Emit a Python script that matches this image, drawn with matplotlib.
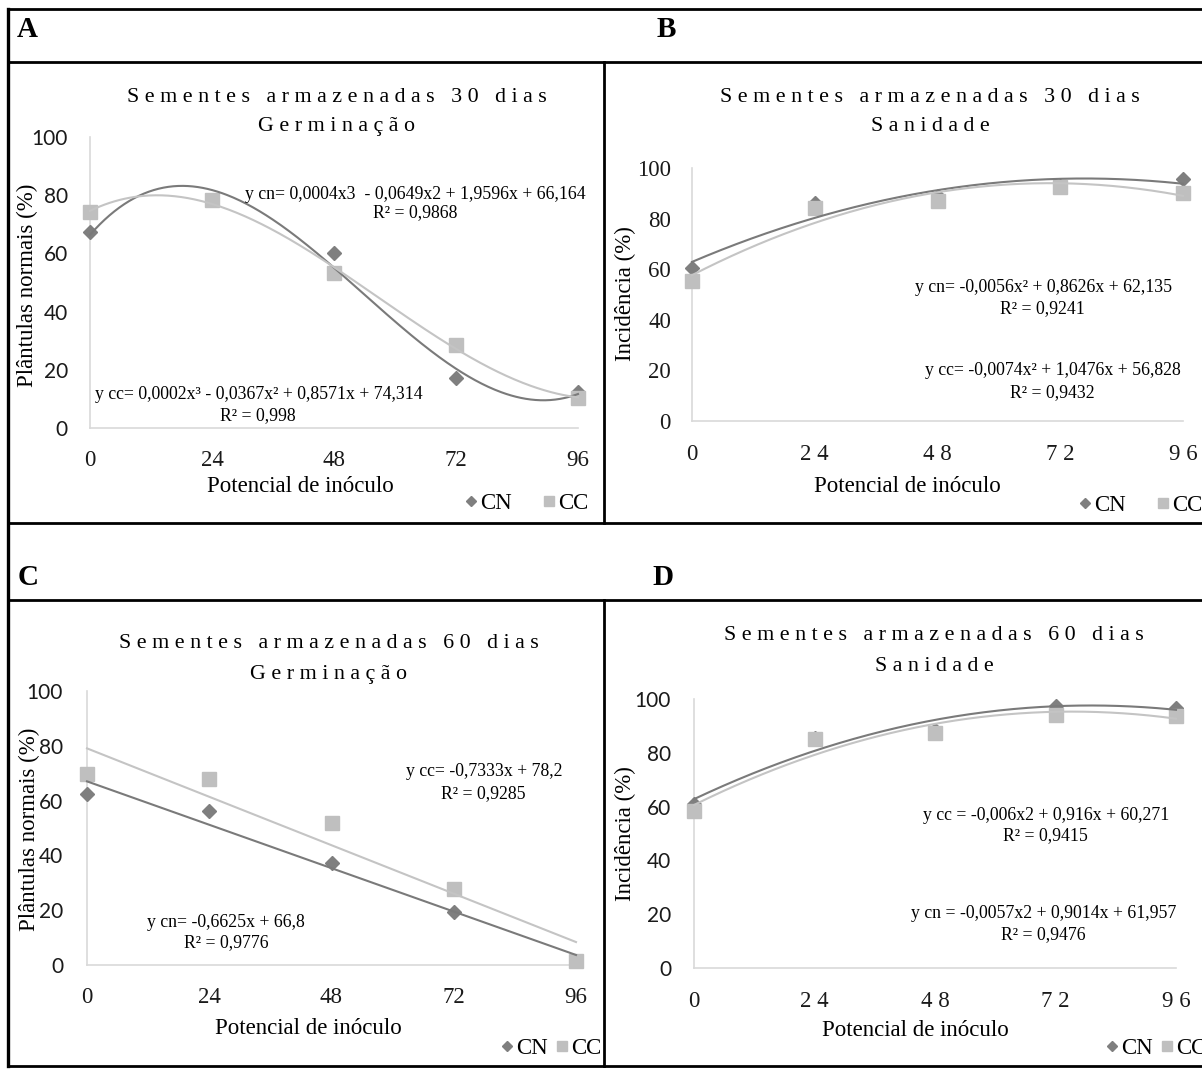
import numpy as np
import matplotlib
matplotlib.use("Agg")
import matplotlib.pyplot as plt
from matplotlib.lines import Line2D

# ---------------- data ----------------
x_vals = [0, 24, 48, 72, 96]
x_ticks = [0, 24, 48, 72, 96]
y_ticks = [0, 20, 40, 60, 80, 100]

A_cn = [67.2, 78.5, 60.0, 17.1, 12.5]
A_cc = [74.3, 78.3, 53.3, 28.5, 10.2]
B_cn = [60.4, 86.0, 89.0, 93.0, 95.5]
B_cc = [55.2, 84.3, 87.0, 92.5, 90.3]
C_cn = [62.3, 56.2, 37.3, 19.4, 1.5]
C_cc = [69.8, 67.8, 51.8, 27.7, 1.5]
D_cn = [61.0, 85.5, 88.5, 97.5, 96.5]
D_cc = [58.3, 85.0, 87.2, 94.2, 93.8]

series_labels = ["CN", "CC"]
panel_letters = ["A", "B", "C", "D"]
titles = [("Sementes armazenadas 30 dias", "Germinação"),
          ("Sementes armazenadas 30 dias", "Sanidade"),
          ("Sementes armazenadas 60 dias", "Germinação"),
          ("Sementes armazenadas 60 dias", "Sanidade")]
ylabels = ["Plântulas normais (%)", "Incidência (%)",
           "Plântulas normais (%)", "Incidência (%)"]
xlabel = "Potencial de inóculo"
equations = [
    ["y cn= 0,0004x3  - 0,0649x2 + 1,9596x + 66,164", "R² = 0,9868",
     "y cc= 0,0002x³ - 0,0367x² + 0,8571x + 74,314", "R² = 0,998"],
    ["y cn= -0,0056x² + 0,8626x + 62,135", "R² = 0,9241",
     "y cc= -0,0074x² + 1,0476x + 56,828", "R² = 0,9432"],
    ["y cc= -0,7333x + 78,2", "R² = 0,9285",
     "y cn= -0,6625x + 66,8", "R² = 0,9776"],
    ["y cc = -0,006x2 + 0,916x + 60,271", "R² = 0,9415",
     "y cn = -0,0057x2 + 0,9014x + 61,957", "R² = 0,9476"],
]
degrees = [3, 2, 1, 2]

# ---------------- styling / layout ----------------
W, H = 1202, 1071
SERIF = "Liberation Serif"
SANS = "Lato"
CN_COL = "#7f7f7f"
CC_COL = "#bfbfbf"
CN_LINE = "#7a7a7a"
CC_LINE = "#c4c4c4"
AX_COL = "#d9d9d9"

fig = plt.figure(figsize=(W / 100, H / 100), dpi=100)


def fx(x):
    return x / W


def fy(y):
    return 1 - y / H


def spaced(s):
    return " ".join(list(s))


# borders
def hline(y, x0=8, x1=W):
    fig.add_artist(Line2D([fx(x0), fx(x1)], [fy(y), fy(y)], color="black", lw=2.0))


def vline(x, y0, y1, lw=2.0):
    fig.add_artist(Line2D([fx(x), fx(x)], [fy(y0), fy(y1)], color="black", lw=lw))


for yy in [9, 62, 523, 600, 1066]:
    hline(yy)
vline(8, 9, 1066, lw=2.4)
vline(604, 62, 523)
vline(604, 600, 1066)

# panel letters
letter_pos = [(17, 37), (657, 37), (18, 585), (652, 585)]
for let, (lx, ly) in zip(panel_letters, letter_pos):
    fig.text(fx(lx), fy(ly), let, family=SERIF, fontweight="bold", fontsize=21,
             ha="left", va="baseline")

panels = [
    dict(box=(90, 578, 137, 428), title=(337, 102, 131), ylab=(27, 285), xlab=(300, 487),
         ytick_font=SANS, ytick_size=15, xtick_spaced=False, xpad=21, ypad=22,
         eq=[(415, 199), (415, 217), (259, 399), (258, 420)],
         leg=(588, 503), colsp=1.3, cn=A_cn, cc=A_cc),
    dict(box=(692, 1183, 168, 421), title=(930, 102, 131), ylab=(625, 294), xlab=(907, 487),
         ytick_font=SERIF, ytick_size=16.5, xtick_spaced=True, xpad=22, ypad=21,
         eq=[(1044, 292), (1042, 313), (1053, 375), (1052, 397)],
         leg=(1202, 505), colsp=1.3, cn=B_cn, cc=B_cc),
    dict(box=(87, 576, 691, 965), title=(329, 648, 679), ylab=(29, 829), xlab=(308, 1029),
         ytick_font=SANS, ytick_size=15, xtick_spaced=False, xpad=21, ypad=24,
         eq=[(484, 776), (483, 798), (226, 927), (226, 947)],
         leg=(601, 1048), colsp=0.3, cn=C_cn, cc=C_cc),
    dict(box=(694, 1176, 699, 968), title=(934, 640, 671), ylab=(625, 834), xlab=(915, 1030),
         ytick_font=SANS, ytick_size=15, xtick_spaced=True, xpad=22, ypad=23,
         eq=[(1046, 820), (1045, 840), (1044, 918), (1043, 939)],
         leg=(1206, 1048), colsp=0.3, cn=D_cn, cc=D_cc),
]

xs = np.linspace(0, 96, 300)
for i, p in enumerate(panels):
    l, r, t, b = p["box"]
    ax = fig.add_axes([fx(l), fy(b), (r - l) / W, (b - t) / H])
    ax.set_xlim(0, 96)
    ax.set_ylim(0, 100)
    for s in ["top", "right"]:
        ax.spines[s].set_visible(False)
    for s in ["left", "bottom"]:
        ax.spines[s].set_color(AX_COL)
        ax.spines[s].set_linewidth(1.2)
    ax.set_xticks(x_ticks)
    ax.set_yticks(y_ticks)
    xt = [spaced(str(v)) if p["xtick_spaced"] else str(v) for v in x_ticks]
    ax.set_xticklabels(xt, family=SERIF, fontsize=16.5)
    ax.set_yticklabels([str(v) for v in y_ticks], family=p["ytick_font"],
                       fontsize=p["ytick_size"])
    ax.tick_params(length=0, colors="#1a1a1a")
    ax.tick_params(axis="x", pad=p["xpad"] * 0.72 + 0.5)
    ax.tick_params(axis="y", pad=p["ypad"] * 0.72)

    ax.plot(x_vals, p["cn"], linestyle="none", marker="D", ms=7, color=CN_COL,
            mec=CN_COL, clip_on=False, zorder=3)
    ax.plot(x_vals, p["cc"], linestyle="none", marker="s", ms=10.5, color=CC_COL,
            mec=CC_COL, clip_on=False, zorder=4)
    cn_fit = np.polyval(np.polyfit(x_vals, p["cn"], degrees[i]), xs)
    cc_fit = np.polyval(np.polyfit(x_vals, p["cc"], degrees[i]), xs)
    ax.plot(xs, cn_fit, color=CN_LINE, lw=1.5, zorder=5, clip_on=False)
    ax.plot(xs, cc_fit, color=CC_LINE, lw=1.5, zorder=5, clip_on=False)

    # titles
    tx, ty1, ty2 = p["title"]
    fig.text(fx(tx), fy(ty1), spaced(titles[i][0]), family=SERIF, fontsize=15.8,
             ha="center", va="baseline")
    fig.text(fx(tx), fy(ty2), spaced(titles[i][1]), family=SERIF, fontsize=15.8,
             ha="center", va="baseline")
    # axis labels
    fig.text(fx(p["ylab"][0]), fy(p["ylab"][1]), ylabels[i], family=SERIF, fontsize=16.5,
             rotation=90, ha="center", va="center")
    fig.text(fx(p["xlab"][0]), fy(p["xlab"][1]), xlabel, family=SERIF, fontsize=16.5,
             ha="center", va="center")
    # equations
    for txt, (ex, ey) in zip(equations[i], p["eq"]):
        fig.text(fx(ex), fy(ey), txt, family=SERIF, fontsize=12.8,
                 ha="center", va="baseline")
    # legend
    handles = [Line2D([], [], linestyle="none", marker="D", ms=4.8, color=CN_COL),
               Line2D([], [], linestyle="none", marker="s", ms=7.5, color=CC_COL)]
    lx, ly = p["leg"]
    fig.legend(handles, series_labels, ncol=2, loc="center right",
               bbox_to_anchor=(fx(lx), fy(ly)), frameon=False,
               prop=dict(family=SERIF, size=16.5), handlelength=0.6,
               handletextpad=0.1, columnspacing=p["colsp"], borderpad=0,
               borderaxespad=0)

fig.savefig("out.png", dpi=100)
